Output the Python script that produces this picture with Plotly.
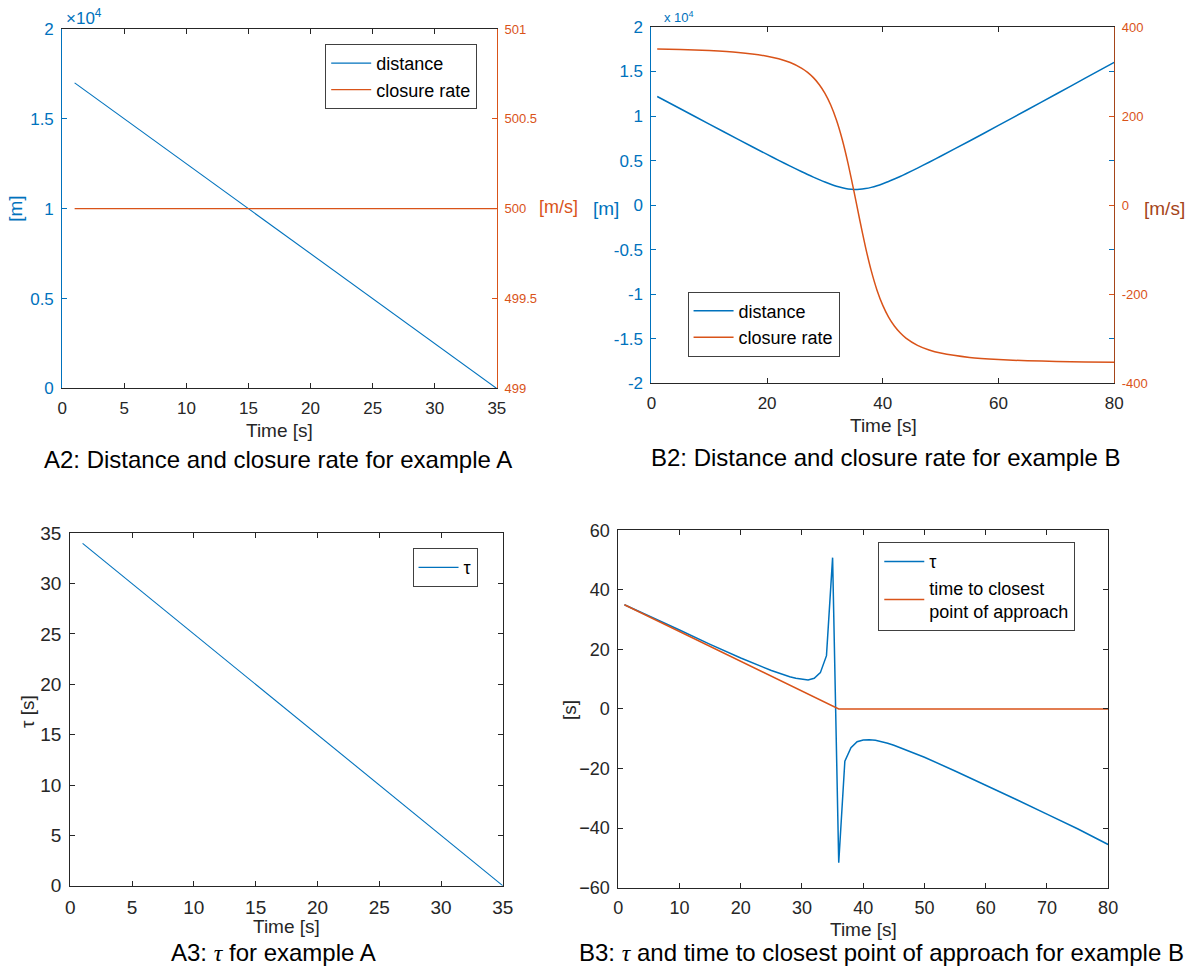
import plotly.graph_objects as go

# ---------------- data ----------------
# Example A
time_A = [1, 35]
distance_A = [17000, 0]          # [m]
closure_A = [500, 500]           # [m/s]
tau_A = [34, 0]                  # [s]

# Example B (distance and closure rate)
time_B = [1, 5, 10, 15, 20, 22, 24, 26, 27, 28, 29, 30, 31, 32, 33, 34, 35, 36,
          37, 38, 39, 40, 41, 42, 43, 44, 46, 48, 50, 55, 60, 65, 70, 75, 80]
distance_B = [12200, 10820, 9100, 7385, 5702, 5040, 4389, 3759, 3451, 3154, 2870,
              2601, 2356, 2135, 1957, 1827, 1765, 1785, 1869, 2001, 2184, 2409,
              2660, 2936, 3226, 3530, 4164, 4819, 5492, 7207, 8950, 10711, 12480,
              14256, 16031]
closure_B = [350.5, 349.4, 347.0, 342.8, 334.5, 328.7, 320.2, 307.2, 298.2, 286.3,
             271.0, 251.0, 224.8, 190.6, 146.9, 93.4, 32.1, -32.1, -93.4, -146.9,
             -190.6, -224.8, -251.0, -271.0, -286.3, -298.2, -314.5, -324.9, -331.9,
             -341.7, -346.4, -349.0, -350.5, -351.6, -352.3]

# Example B (tau and time to closest point of approach)
time_B3 = [1, 5, 10, 15, 20, 25, 27, 28, 29, 30, 31, 32, 33, 34, 35, 36, 37, 38,
           39, 40, 41, 42, 43, 44, 45, 50, 55, 60, 65, 70, 75, 80]
tau_B = [35.0, 31.3, 26.5, 21.7, 17.1, 12.9, 11.4, 10.8, 10.3, 9.9, 9.7, 10.3,
         12.2, 17.9, 50.8, -51.6, -17.5, -13.0, -11.0, -10.4, -10.3, -10.5, -10.9,
         -11.5, -12.2, -16.2, -20.8, -25.5, -30.4, -35.3, -40.2, -45.5]
time_cpa = [1, 36, 80]
cpa_B = [35, 0, 0]

# tick labels
x_ticks_A = [0, 5, 10, 15, 20, 25, 30, 35]
x_ticks_B2 = [0, 20, 40, 60, 80]
x_ticks_B3 = [0, 10, 20, 30, 40, 50, 60, 70, 80]
y_ticks_A2 = [0, 5000, 10000, 15000, 20000]
y_text_A2 = ["0", "0.5", "1", "1.5", "2"]
y2_ticks_A2 = [499, 499.5, 500, 500.5, 501]
y2_text_A2 = ["499", "499.5", "500", "500.5", "501"]
y_ticks_B2 = [-20000, -15000, -10000, -5000, 0, 5000, 10000, 15000, 20000]
y_text_B2 = ["-2", "-1.5", "-1", "-0.5", "0", "0.5", "1", "1.5", "2"]
y2_ticks_B2 = [-400, -200, 0, 200, 400]
y2_text_B2 = ["-400", "-200", "0", "200", "400"]
y_ticks_A3 = [0, 5, 10, 15, 20, 25, 30, 35]
y_ticks_B3 = [-60, -40, -20, 0, 20, 40, 60]

# ---------------- style ----------------
# measured page placement of the figure: page = offset + scale * figure pixel
OX, SX = 7.0, 0.983
OY, SY = 9.0, 0.980
W, H = 1203, 980
F = "Liberation Sans"
BLUE = "#0072BD"
ORANGE = "#D95319"
BROWN = "#A5451A"
DARK = "#262626"


def px(x):
    return ((x - OX) / SX) / W


def py(y):
    return 1 - ((y - OY) / SY) / H


fig = go.Figure()

fig.add_trace(go.Scatter(x=time_A, y=distance_A, mode="lines", name="distance",
                         line=dict(color=BLUE, width=1.1), xaxis="x", yaxis="y",
                         legend="legend"))
fig.add_trace(go.Scatter(x=time_A, y=closure_A, mode="lines", name="closure rate",
                         line=dict(color=ORANGE, width=1.3), xaxis="x", yaxis="y2",
                         legend="legend"))

fig.add_trace(go.Scatter(x=time_B, y=distance_B, mode="lines", name="distance",
                         line=dict(color=BLUE, width=1.5, shape="spline", smoothing=0.6),
                         xaxis="x2", yaxis="y3", legend="legend2"))
fig.add_trace(go.Scatter(x=time_B, y=closure_B, mode="lines", name="closure rate",
                         line=dict(color=ORANGE, width=1.5, shape="spline", smoothing=0.6),
                         xaxis="x2", yaxis="y4", legend="legend2"))

fig.add_trace(go.Scatter(x=time_A, y=tau_A, mode="lines", name="τ",
                         line=dict(color=BLUE, width=1.1), xaxis="x3", yaxis="y5",
                         legend="legend3"))

fig.add_trace(go.Scatter(x=time_B3, y=tau_B, mode="lines", name="τ",
                         line=dict(color=BLUE, width=1.5), xaxis="x4", yaxis="y6",
                         legend="legend4"))
fig.add_trace(go.Scatter(x=time_cpa, y=cpa_B, mode="lines",
                         name="time to closest<br>point of approach",
                         line=dict(color=ORANGE, width=1.5), xaxis="x4", yaxis="y6",
                         legend="legend4"))


def xax(dom, rng, ticks, anchor, size=17):
    return dict(domain=dom, range=rng, tickvals=ticks, anchor=anchor,
                showline=True, linecolor=DARK, linewidth=1, mirror="ticks",
                ticks="inside", ticklen=5, tickcolor=DARK, showgrid=False,
                zeroline=False, tickfont=dict(family=F, size=size, color=DARK),
                ticklabelstandoff=4)


def yax(dom, rng, ticks, anchor, color, text=None, mirror=False, size=17):
    d = dict(domain=dom, range=rng, tickvals=ticks, anchor=anchor,
             showline=True, linecolor=color, linewidth=1, mirror=mirror,
             ticks="inside", ticklen=5, tickcolor=color, showgrid=False,
             zeroline=False, tickfont=dict(family=F, size=size, color=color),
             ticklabelstandoff=4)
    if text is not None:
        d["ticktext"] = text
    return d


dA2x = [px(64), px(497)]
dA2y = [py(388), py(28)]
dB2x = [px(651), px(1112)]
dB2y = [py(383), py(26)]
dA3x = [px(72), px(503)]
dA3y = [py(886), py(533)]
dB3x = [px(618), px(1106)]
dB3y = [py(888), py(530)]

layout = dict(
    width=W, height=H, margin=dict(l=0, r=0, t=0, b=0),
    paper_bgcolor="white", plot_bgcolor="white",
    font=dict(family=F, color=DARK),
    xaxis=xax(dA2x, [0, 35], x_ticks_A, "y"),
    yaxis=yax(dA2y, [0, 20000], y_ticks_A2, "x", BLUE, y_text_A2),
    yaxis2=dict(yax(dA2y, [499, 501], y2_ticks_A2, "x", ORANGE, y2_text_A2, size=13),
                overlaying="y", side="right"),
    xaxis2=xax(dB2x, [0, 80], x_ticks_B2, "y3"),
    yaxis3=yax(dB2y, [-20000, 20000], y_ticks_B2, "x2", BLUE, y_text_B2, mirror="ticks"),
    yaxis4=dict(yax(dB2y, [-400, 400], y2_ticks_B2, "x2", ORANGE, y2_text_B2, size=13),
                overlaying="y3", side="right", linecolor=BROWN),
    xaxis3=xax(dA3x, [0, 35], x_ticks_A, "y5", size=19),
    yaxis5=yax(dA3y, [0, 35], y_ticks_A3, "x3", DARK, mirror="ticks", size=19),
    xaxis4=xax(dB3x, [0, 80], x_ticks_B3, "y6", size=18),
    yaxis6=yax(dB3y, [-60, 60], y_ticks_B3, "x4", DARK, mirror="ticks", size=18),
)

leg_common = dict(xanchor="left", yanchor="top", bgcolor="white",
                  bordercolor="#404040", borderwidth=1,
                  font=dict(family=F, size=18, color="#000000"),
                  itemwidth=40, tracegroupgap=0)
layout["legend"] = dict(leg_common, x=px(326), y=py(43))
layout["legend2"] = dict(leg_common, x=px(687), y=py(291))
layout["legend3"] = dict(leg_common, x=px(413), y=py(548))
layout["legend4"] = dict(leg_common, x=px(877), y=py(542))

fig.update_layout(**layout)


def ann(text, x, y, size, color=DARK, angle=0, xanchor="center"):
    fig.add_annotation(text=text, x=px(x), y=py(y), xref="paper", yref="paper",
                       showarrow=False, textangle=angle, xanchor=xanchor,
                       yanchor="middle", font=dict(family=F, size=size, color=color))


# A2
ann("[m]", 18, 208, 19, BLUE, -90)
ann("[m/s]", 558, 206, 18, ORANGE)
ann("×10<sup>4</sup>", 66, 16, 17, BLUE, xanchor="left")
ann("Time [s]", 280, 430, 19)
ann("A2: Distance and closure rate for example A", 279, 459, 24, "#000000")
# B2
ann("[m]", 606, 208, 19, BLUE)
ann("[m/s]", 1162, 208, 19, BROWN)
ann("x 10<sup>4</sup>", 662, 16, 13, BLUE, xanchor="left")
ann("Time [s]", 882, 425, 19)
ann("B2: Distance and closure rate for example B", 885, 457, 24, "#000000")
# A3
ann("τ [s]", 30, 712, 19, DARK, -90)
ann("Time [s]", 287, 927, 19)
ann("A3: <span style=\"font-family:'Liberation Serif';font-style:italic\">τ</span> for example A",
    274, 953, 24, "#000000")
# B3
ann("[s]", 570, 710, 19, DARK, -90)
ann("Time [s]", 862, 930, 19)
ann("B3: <span style=\"font-family:'Liberation Serif';font-style:italic\">τ</span> and time to closest point of approach for example B",
    880, 953, 24, "#000000")

fig.write_html("out.html")
